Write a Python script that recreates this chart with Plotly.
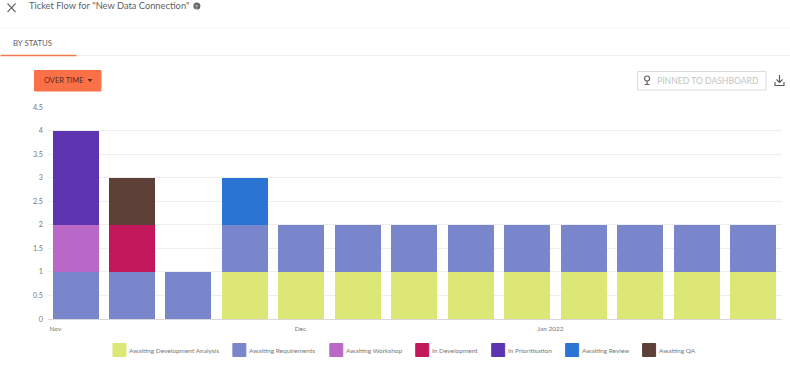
import plotly.graph_objects as go

W, H = 790, 366
FONT = "Lato"
L, R, T, B = 47.5, 782, 107, 319  # plot area in picture pixels

weeks = ["2021-11-03 12:00", "2021-11-10 12:00", "2021-11-17 12:00", "2021-11-24 12:00",
         "2021-12-01 12:00", "2021-12-08 12:00", "2021-12-15 12:00", "2021-12-22 12:00",
         "2021-12-29 12:00", "2022-01-05 12:00", "2022-01-12 12:00", "2022-01-19 12:00",
         "2022-01-26 12:00"]
dev_analysis = [0, 0, 0, 1, 1, 1, 1, 1, 1, 1, 1, 1, 1]
requirements = [1, 1, 1, 1, 1, 1, 1, 1, 1, 1, 1, 1, 1]
workshop = [1, 0, 0, 0, 0, 0, 0, 0, 0, 0, 0, 0, 0]
in_development = [0, 1, 0, 0, 0, 0, 0, 0, 0, 0, 0, 0, 0]
prioritisation = [2, 0, 0, 0, 0, 0, 0, 0, 0, 0, 0, 0, 0]
review = [0, 0, 0, 1, 0, 0, 0, 0, 0, 0, 0, 0, 0]
qa = [0, 1, 0, 0, 0, 0, 0, 0, 0, 0, 0, 0, 0]

series = [
    ("Awaiting Development Analysis", dev_analysis, "#dce775"),
    ("Awaiting Requirements", requirements, "#7986cb"),
    ("Awaiting Workshop", workshop, "#ba68c8"),
    ("In Development", in_development, "#c2185b"),
    ("In Prioritisation", prioritisation, "#5e35b1"),
    ("Awaiting Review", review, "#2a75d3"),
    ("Awaiting QA", qa, "#5d4037"),
]
legend_left = [112, 232, 329, 415, 491, 565, 642]
x_tick_vals = ["2021-11-01", "2021-12-01 09:00", "2022-01-01 09:00"]
x_tick_text = ["Nov", "Dec", "Jan 2022"]
y_tick_vals = [0, 0.5, 1, 1.5, 2, 2.5, 3, 3.5, 4, 4.5]
y_tick_text = ["0", "0.5", "1", "1.5", "2", "2.5", "3", "3.5", "4", "4.5"]

fig = go.Figure()
for name, vals, col in series:
    fig.add_bar(x=weeks, y=vals, name=name, marker_color=col, marker_line_width=0,
                width=5.7 * 86400000, showlegend=False)


def px(x):
    return (x - L) / (R - L)


def py(y):
    return (B - y) / (B - T)


shapes, notes = [], []


def line(x0, y0, x1, y1, color, w=1):
    shapes.append(dict(type="line", xref="paper", yref="paper", x0=px(x0), y0=py(y0),
                       x1=px(x1), y1=py(y1), line=dict(color=color, width=w)))


def rect(x0, y0, x1, y1, fill, border=None):
    shapes.append(dict(type="rect", xref="paper", yref="paper", x0=px(x0), y0=py(y0),
                       x1=px(x1), y1=py(y1), fillcolor=fill,
                       line=dict(color=border or fill, width=1)))


def text(x, y, s, size, color, anchor="left"):
    notes.append(dict(xref="paper", yref="paper", x=px(x), y=py(y), text=s, showarrow=False,
                      xanchor=anchor, yanchor="middle", borderpad=0, borderwidth=0,
                      font=dict(family=FONT, size=size, color=color)))


# header
line(7, 3.5, 15, 12, "#6b6b6b", 1.1)
line(15, 3.5, 7, 12, "#6b6b6b", 1.1)
text(28.5, 5.5, 'Ticket Flow for "New Data Connection"', 9.3, "#5f5f5f")
shapes.append(dict(type="circle", xref="paper", yref="paper", x0=px(193), y0=py(2.5), x1=px(200),
                   y1=py(9.5), fillcolor="#666666", line=dict(width=0)))
text(196.5, 6, "?", 6, "#ffffff", "center")
line(0, 28, W, 28, "#f7f7f7")
text(12, 43, "BY STATUS", 7.8, "#5f5f5f")
line(0, 55.5, W, 55.5, "#efefef")
line(0, 55.5, 76, 55.5, "#f4794a", 1.5)
# over time button
rect(34, 70.5, 100.5, 91, "#fa7148")
text(43, 80.5, "OVER TIME", 7.5, "#5c2a1c")
shapes.append(dict(type="path", xref="paper", yref="paper", fillcolor="#5c2a1c", line=dict(width=0),
                   path=f"M {px(87)} {py(79)} L {px(92)} {py(79)} L {px(89.5)} {py(82)} Z"))
# pinned box
rect(637.5, 71.5, 766, 90, "#ffffff", "#dcdcdc")
shapes.append(dict(type="circle", xref="paper", yref="paper", x0=px(644.5), y0=py(76), x1=px(649.5),
                   y1=py(81), fillcolor="#ffffff", line=dict(color="#6d5f5a", width=1.2)))
line(647, 81, 647, 84, "#6d5f5a", 1.2)
line(644.5, 84.5, 649.5, 84.5, "#6d5f5a", 1)
text(657, 81, "PINNED TO DASHBOARD", 8.6, "#c4c4c4")
# download icon
line(779.5, 75, 779.5, 82, "#555555", 1.1)
shapes.append(dict(type="path", xref="paper", yref="paper", line=dict(color="#555555", width=1.1),
                   path=f"M {px(776.5)} {py(79.5)} L {px(779.5)} {py(82.5)} L {px(782.5)} {py(79.5)}"))
shapes.append(dict(type="path", xref="paper", yref="paper", line=dict(color="#555555", width=1.1),
                   path=f"M {px(775)} {py(82)} L {px(775)} {py(85.5)} L {px(784)} {py(85.5)} L {px(784)} {py(82)}"))

# legend row
for (name, _, col), left in zip(series, legend_left):
    rect(left + 0.5, 343.5, left + 13.5, 356.5, col)
    text(left + 16.5, 350, name, 6.5, "#777777")

fig.update_layout(
    width=W, height=H, autosize=False,
    margin=dict(l=L, r=W - R, t=T, b=H - B),
    paper_bgcolor="#ffffff", plot_bgcolor="#ffffff",
    barmode="stack",
    font=dict(family=FONT, color="#777777", size=6.5),
    shapes=shapes, annotations=notes,
    showlegend=False,
    xaxis=dict(type="date",
               range=["2021-10-31 02:00", "2022-01-30 02:00"],
               tickmode="array", tickvals=x_tick_vals, ticktext=x_tick_text,
               showgrid=False, ticks="", showline=True, linecolor="#d8d8d8", linewidth=1,
               ticklabelstandoff=3,
               tickfont=dict(family=FONT, size=6.5, color="#777777"), zeroline=False),
    yaxis=dict(range=[0, 4.5],
               tickmode="array", tickvals=y_tick_vals, ticktext=y_tick_text,
               showgrid=True, gridcolor="#eeeeee", gridwidth=1, zeroline=False,
               ticks="", ticklabelstandoff=4,
               tickfont=dict(family=FONT, size=7.2, color="#777777")),
)
fig.write_html("out.html", config={"displayModeBar": False},
               post_script="document.body.style.margin='0';document.body.style.overflow='hidden';")
